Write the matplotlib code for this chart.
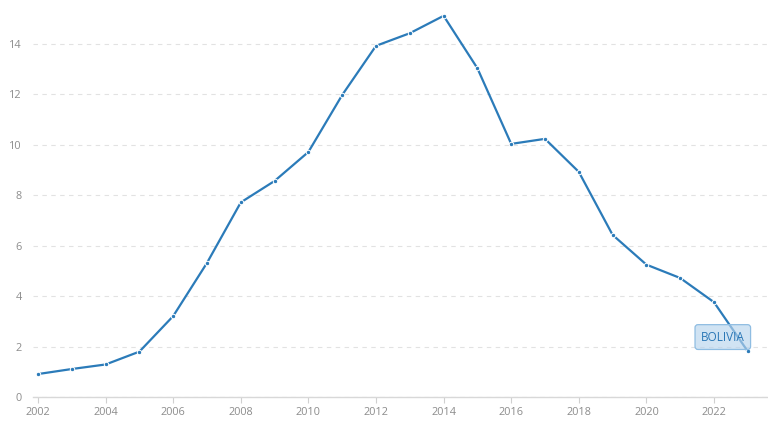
import matplotlib
matplotlib.use("Agg")
import matplotlib.pyplot as plt

years = list(range(2002, 2024))
values = [0.91, 1.11, 1.29, 1.80, 3.21, 5.32, 7.72, 8.57, 9.72, 11.98, 13.93,
          14.43, 15.12, 13.04, 10.04, 10.24, 8.93, 6.43, 5.25, 4.72, 3.76, 1.81]
x_ticks = list(range(2002, 2024, 2))
y_ticks = [0, 2, 4, 6, 8, 10, 12, 14]
series_label = "BOLIVIA"

plt.rcParams['font.family'] = ['Open Sans', 'DejaVu Sans']

W, H = 768, 426
fig = plt.figure(figsize=(W / 100, H / 100), dpi=100)
left_px, right_px, bottom_px, top_px = 33, 768, 397, 6
ax = fig.add_axes([left_px / W, 1 - bottom_px / H,
                   (right_px - left_px) / W, (bottom_px - top_px) / H])

line_color = '#2b7bb9'
ax.plot(years, values, color=line_color, linewidth=1.6, zorder=3,
        marker='o', markersize=3.2, markerfacecolor=line_color,
        markeredgecolor='white', markeredgewidth=0.7)

px_per_year = 33.8
ax.set_xlim(2002 - (38 - left_px) / px_per_year,
            2002 + (right_px - 38) / px_per_year)
px_per_unit = 25.21
ax.set_ylim(0, (bottom_px - top_px) / px_per_unit)

ax.set_xticks(x_ticks)
ax.set_yticks(y_ticks)
ax.set_xticklabels([str(t) for t in x_ticks])
ax.set_yticklabels([str(t) for t in y_ticks])

for s in ['top', 'right', 'left']:
    ax.spines[s].set_visible(False)
ax.spines['bottom'].set_color('#d8d8d8')
ax.spines['bottom'].set_linewidth(1.0)

ax.tick_params(axis='x', colors='#d0d0d0', length=4, width=0.8,
               labelcolor='#8c8c8c', labelsize=7.8, pad=3)
ax.tick_params(axis='y', length=0, labelcolor='#8c8c8c', labelsize=7.8, pad=8)

ax.yaxis.grid(True, color='#e2e2e2', linestyle=(0, (4, 4)), linewidth=0.8)
ax.set_axisbelow(True)
ax.xaxis.grid(False)

ax.annotate(series_label, xy=(years[-1], values[-1]),
            xytext=(-18, 10.3), textcoords='offset points',
            ha='center', va='center', fontsize=8.5, color='#2a77b6',
            zorder=5,
            bbox=dict(boxstyle='round,pad=0.5,rounding_size=0.25',
                      facecolor=(0.72, 0.83, 0.93, 0.65),
                      edgecolor='#8fbde2', linewidth=0.9))

fig.savefig('out.png', dpi=100)
